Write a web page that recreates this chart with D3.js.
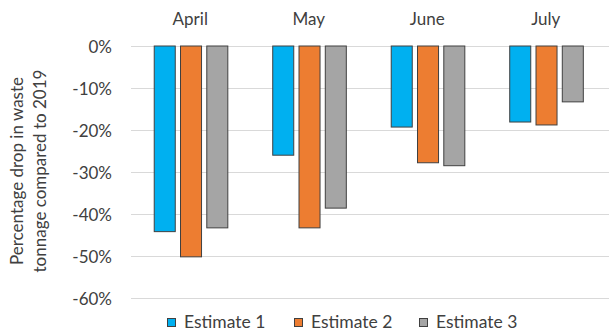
<!DOCTYPE html>
<html>
<head>
<meta charset="utf-8">
<script src="https://cdn.jsdelivr.net/npm/d3@7"></script>
<style>
  html, body { margin: 0; padding: 0; background: #fff; }
  svg { display: block; }
  text { font-family: Lato, "Open Sans", sans-serif; fill: #404040; }
</style>
</head>
<body>
<svg id="chart" width="609" height="328"></svg>
<script>
// Monthly drop in waste tonnage relative to 2019, three estimates
const months = ["April", "May", "June", "July"];
const seriesNames = ["Estimate 1", "Estimate 2", "Estimate 3"];
const estimate1 = [-44.2, -26.0, -19.3, -18.1];
const estimate2 = [-50.2, -43.3, -27.8, -18.8];
const estimate3 = [-43.3, -38.6, -28.5, -13.3];
const seriesColors = ["#00B0F0", "#ED7D31", "#A5A5A5"];
const yTicks = [0, -10, -20, -30, -40, -50, -60];
const axisTitle = ["Percentage drop in waste", "tonnage compared to 2019"];

const seriesValues = [estimate1, estimate2, estimate3];
const FONT = "Lato, 'Open Sans', sans-serif";
const FS = 17;

const svg = d3.select("#chart");
const plot = { left: 131, right: 605, top: 46, bottom: 298 };

const x = d3.scaleBand().domain(months).range([plot.left, plot.right]).padding(0);
const xInner = d3.scaleBand().domain(seriesNames)
  .range([x.bandwidth() * 0.196, x.bandwidth() * 0.817])
  .paddingInner(0.2).paddingOuter(0);
const y = d3.scaleLinear().domain([-60, 0]).range([plot.bottom, plot.top]);

// Horizontal gridlines
svg.append("g")
  .selectAll("line")
  .data(yTicks)
  .join("line")
  .attr("x1", plot.left)
  .attr("x2", 609)
  .attr("y1", d => Math.round(y(d)) + 0.5)
  .attr("y2", d => Math.round(y(d)) + 0.5)
  .attr("stroke", "#d9d9d9")
  .attr("stroke-width", 1);

// Y axis tick labels
const yAxis = d3.axisLeft(y).tickValues(yTicks).tickSize(0).tickPadding(0)
  .tickFormat(d => d + "%");
const yg = svg.append("g").attr("transform", `translate(112,1)`).call(yAxis);
yg.select(".domain").remove();
yg.selectAll("text")
  .attr("font-size", FS)
  .style("font-family", FONT)
  .attr("fill", "#404040");

// Month labels along the top
const xAxis = d3.axisTop(x).tickSize(0).tickPadding(0);
const xg = svg.append("g").attr("transform", `translate(0,25)`).call(xAxis);
xg.select(".domain").remove();
xg.selectAll("text")
  .attr("font-size", FS)
  .attr("dy", 0)
  .style("font-family", FONT)
  .attr("fill", "#404040");

// Bars
const groups = svg.append("g")
  .selectAll("g")
  .data(months)
  .join("g")
  .attr("transform", d => `translate(${x(d)},0)`);

groups.selectAll("rect")
  .data((m, i) => seriesNames.map((s, k) => ({ series: s, value: seriesValues[k][i], color: seriesColors[k] })))
  .join("rect")
  .attr("x", d => xInner(d.series))
  .attr("width", xInner.bandwidth())
  .attr("y", y(0))
  .attr("height", d => y(d.value) - y(0))
  .attr("fill", d => d.color)
  .attr("stroke", "#404040")
  .attr("stroke-width", 1);

// Y axis title (two lines, rotated)
const title = svg.append("text")
  .attr("transform", "translate(0,171) rotate(-90)")
  .attr("text-anchor", "middle")
  .attr("font-size", FS);
title.selectAll("tspan")
  .data(axisTitle)
  .join("tspan")
  .attr("x", 0)
  .attr("y", (d, i) => 22.5 + i * 23.5)
  .text(d => d);

// Legend
const legendX = [167, 294, 419];
const legend = svg.append("g")
  .selectAll("g")
  .data(seriesNames)
  .join("g")
  .attr("transform", (d, i) => `translate(${legendX[i]},318)`);
legend.append("rect")
  .attr("x", 0.5).attr("y", 0.5)
  .attr("width", 8).attr("height", 8)
  .attr("fill", (d, i) => seriesColors[i])
  .attr("stroke", "#404040")
  .attr("stroke-width", 1);
legend.append("text")
  .attr("x", 17)
  .attr("y", 10)
  .attr("font-size", FS + 0.5)
  .text(d => d);
</script>
</body>
</html>
